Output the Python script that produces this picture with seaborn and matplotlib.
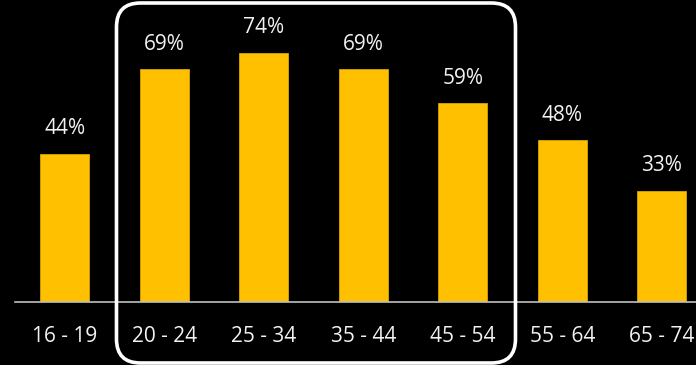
import matplotlib
matplotlib.use("Agg")
import matplotlib.pyplot as plt
import seaborn as sns
from matplotlib.patches import FancyBboxPatch
from matplotlib.transforms import IdentityTransform


# -------------------------------------------------
# Data
# -------------------------------------------------

age_groups = ["16 - 19", "20 - 24", "25 - 34", "35 - 44", "45 - 54", "55 - 64", "65 - 74"]
shares = [44, 69, 74, 69, 59, 48, 33]

# highlighted range (first and last category inside the box)
highlight = ("20 - 24", "45 - 54")

BAR_COLOR = "#FFC000"
TEXT_COLOR = "#F2F2F2"


# -------------------------------------------------
# Style
# -------------------------------------------------

sns.set_style("white")
plt.rcParams["font.family"] = ["Open Sans", "DejaVu Sans"]


def plot_bars(output_path):

    fig = plt.figure(figsize=(6.96, 3.65), dpi=100, facecolor="black")
    ax = fig.add_axes([15 / 696, 63 / 365, 681 / 696, 302 / 365])
    ax.set_facecolor("black")

    sns.barplot(
        x=age_groups,
        y=shares,
        color=BAR_COLOR,
        saturation=1,
        width=0.49,
        edgecolor="#D9A300",
        linewidth=0.6,
        ax=ax
    )

    ax.set_xlim(-0.5, -0.5 + 681 / 99.5)
    ax.set_ylim(0, 302 / 3.37)

    for i, v in enumerate(shares):
        ax.annotate(
            f"{v}%",
            (i, v),
            xytext=(0, 18),
            textcoords="offset points",
            ha="center",
            va="center",
            fontsize=15,
            color=TEXT_COLOR
        )

    ax.set_xlabel("")
    ax.set_ylabel("")
    ax.set_yticks([])

    for name, spine in ax.spines.items():
        if name == "bottom":
            spine.set_visible(True)
            spine.set_color("#BFBFBF")
            spine.set_linewidth(1.2)
            spine.set_zorder(3)
        else:
            spine.set_visible(False)

    ax.tick_params(axis="x", length=0, pad=17, labelsize=15, labelcolor=TEXT_COLOR)

    # rounded highlight box around the middle age groups
    i0 = age_groups.index(highlight[0])
    i1 = age_groups.index(highlight[1])
    x0 = ax.transData.transform((i0 - 0.48, 0))[0]
    x1 = ax.transData.transform((i1 + 0.53, 0))[0]
    y0 = fig.transFigure.transform((0, 2 / 365))[1]
    y1 = fig.transFigure.transform((0, 362 / 365))[1]

    box = FancyBboxPatch(
        (x0, y0), x1 - x0, y1 - y0,
        boxstyle="round,pad=0,rounding_size=24",
        facecolor="none",
        edgecolor="white",
        linewidth=2.6,
        transform=IdentityTransform(),
        clip_on=False
    )
    fig.add_artist(box)

    fig.savefig(output_path, dpi=100, facecolor="black")
    plt.close(fig)


def main():
    plot_bars("out.png")


if __name__ == "__main__":
    main()
